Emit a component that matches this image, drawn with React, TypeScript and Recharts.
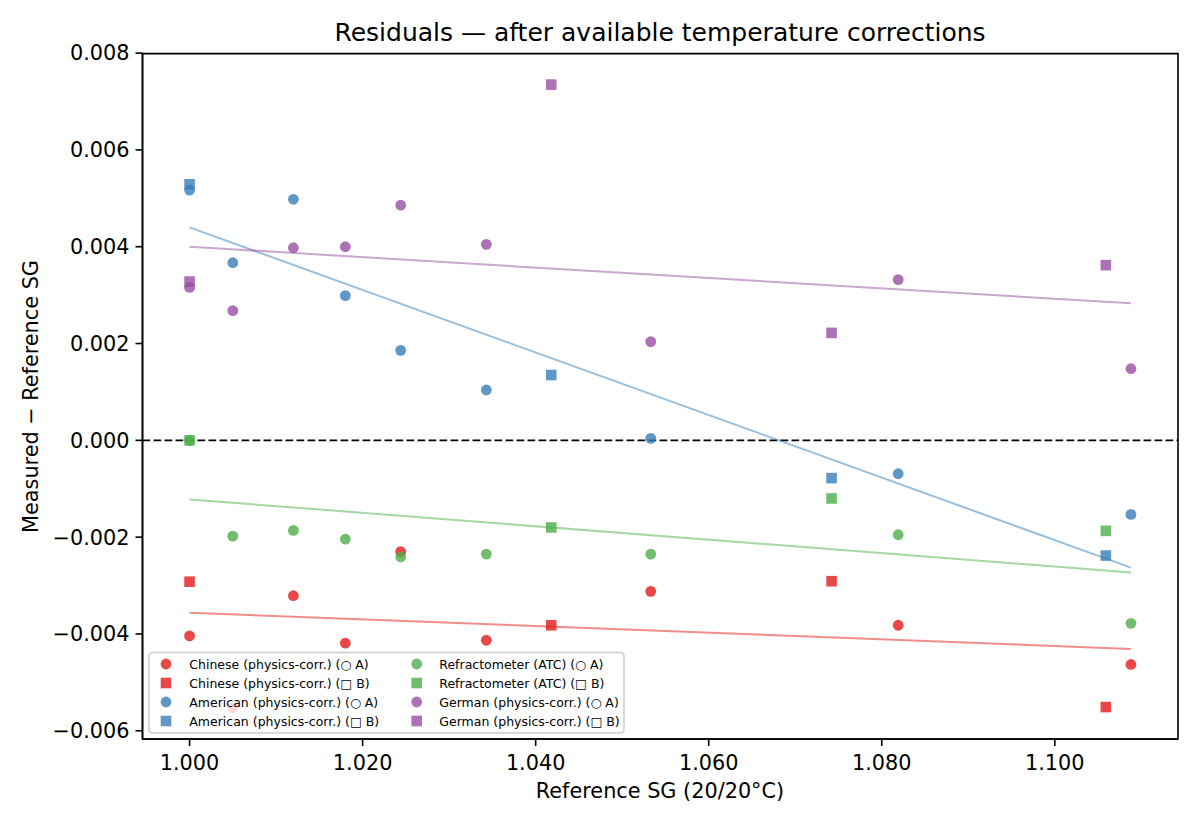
import React from 'react';
import { ComposedChart, Scatter, XAxis, YAxis, ReferenceLine, ReferenceArea } from 'recharts';

// reference SG positions (A = circle runs, B = square runs)
const sgA = [1.0, 1.005, 1.012, 1.018, 1.0244, 1.0343, 1.0533, 1.0819, 1.1088];
const sgB = [1.0, 1.0418, 1.0742, 1.1059];
const trendSG = [1.0, 1.1088];

// residuals, measured - reference
const chineseA = [-0.00404, -0.00553, -0.00321, -0.00419, -0.0023, -0.00413, -0.00312, -0.00382, -0.00463];
const chineseB = [-0.00292, -0.00382, -0.00291, -0.00551];
const americanA = [0.00517, 0.00367, 0.00498, 0.00299, 0.00186, 0.00104, 0.00004, -0.00069, -0.00153];
const americanB = [0.00529, 0.00135, -0.00078, -0.00238];
const refractA = [0.0, -0.00198, -0.00186, -0.00204, -0.00241, -0.00235, -0.00235, -0.00195, -0.00378];
const refractB = [0.0, -0.0018, -0.0012, -0.00187];
const germanA = [0.00316, 0.00268, 0.00398, 0.004, 0.00486, 0.00405, 0.00204, 0.00332, 0.00148];
const germanB = [0.00328, 0.00735, 0.00222, 0.00362];

// fitted trend line end values
const chineseTrend = [-0.00356, -0.00431];
const americanTrend = [0.0044, -0.00263];
const refractTrend = [-0.00122, -0.00273];
const germanTrend = [0.004, 0.00283];

const xTicks = [1.0, 1.02, 1.04, 1.06, 1.08, 1.1];
const yTicks = [-0.006, -0.004, -0.002, 0, 0.002, 0.004, 0.006, 0.008];

const X_DOMAIN = [0.99456, 1.11424];
const Y_DOMAIN = [-0.00617, 0.00799];

const RED = '#e41a1c';
const BLUE = '#377eb8';
const GREEN = '#4daf4a';
const PURPLE = '#984ea3';

const FONT = '"DejaVu Sans", sans-serif';

const toPoints = (xs: number[], ys: number[]) => xs.map((x, i) => ({ x, y: ys[i] }));

const circleShape = (color: string) => (p: any) => (
  <circle cx={p.cx} cy={p.cy} r={5.4} fill={color} fillOpacity={0.8} />
);
const squareShape = (color: string) => (p: any) => (
  <rect x={p.cx - 5.3} y={p.cy - 5.3} width={10.6} height={10.6} fill={color} fillOpacity={0.8} />
);
const noShape = () => <g />;

const series = [
  { name: 'Chinese (physics-corr.) (○ A)', color: RED, square: false, data: toPoints(sgA, chineseA) },
  { name: 'Chinese (physics-corr.) (□ B)', color: RED, square: true, data: toPoints(sgB, chineseB) },
  { name: 'American (physics-corr.) (○ A)', color: BLUE, square: false, data: toPoints(sgA, americanA) },
  { name: 'American (physics-corr.) (□ B)', color: BLUE, square: true, data: toPoints(sgB, americanB) },
  { name: 'Refractometer (ATC) (○ A)', color: GREEN, square: false, data: toPoints(sgA, refractA) },
  { name: 'Refractometer (ATC) (□ B)', color: GREEN, square: true, data: toPoints(sgB, refractB) },
  { name: 'German (physics-corr.) (○ A)', color: PURPLE, square: false, data: toPoints(sgA, germanA) },
  { name: 'German (physics-corr.) (□ B)', color: PURPLE, square: true, data: toPoints(sgB, germanB) },
];

const trends = [
  { color: RED, data: toPoints(trendSG, chineseTrend) },
  { color: BLUE, data: toPoints(trendSG, americanTrend) },
  { color: GREEN, data: toPoints(trendSG, refractTrend) },
  { color: PURPLE, data: toPoints(trendSG, germanTrend) },
];

const fmtY = (v: number) => (v < 0 ? '\u2212' : '') + Math.abs(v).toFixed(3);
const fmtX = (v: number) => v.toFixed(3);

const tickStyle = { fill: '#000', fontSize: 20.8, fontFamily: FONT };
const spine = { stroke: '#000', strokeWidth: 1.6 };

const Overlay = () => (
  <svg
    width={1200}
    height={825}
    style={{ position: 'absolute', left: 0, top: 0, pointerEvents: 'none' }}
  >
    <text x={660} y={41} textAnchor="middle" fontSize={25} fontFamily={FONT} fill="#000">
      Residuals — after available temperature corrections
    </text>
    <text x={660} y={798} textAnchor="middle" fontSize={20.8} fontFamily={FONT} fill="#000">
      Reference SG (20/20°C)
    </text>
    <text
      transform="translate(37.5,396.5) rotate(-90)"
      textAnchor="middle"
      fontSize={20.8}
      fontFamily={FONT}
      fill="#000"
    >
      Measured − Reference SG
    </text>
    <rect
      x={149}
      y={652.5}
      width={475}
      height={80.5}
      rx={3.5}
      fill="#fff"
      fillOpacity={0.8}
      stroke="#cccccc"
      strokeWidth={1.5}
    />
    {series.map((s, i) => {
      const col = Math.floor(i / 4);
      const row = i % 4;
      const mx = col === 0 ? 166 : 416.7;
      const tx = col === 0 ? 189.3 : 439.3;
      const cy = 664 + row * 19;
      return (
        <g key={s.name}>
          {s.square ? (
            <rect x={mx - 5.3} y={cy - 5.3} width={10.6} height={10.6} fill={s.color} fillOpacity={0.8} />
          ) : (
            <circle cx={mx} cy={cy} r={5.4} fill={s.color} fillOpacity={0.8} />
          )}
          <text x={tx} y={cy + 4.5} fontSize={12.5} fontFamily={FONT} fill="#000">
            {s.name}
          </text>
        </g>
      );
    })}
  </svg>
);

export default function App() {
  return (
    <div style={{ position: 'absolute', left: 0, top: 0, width: 1200, height: 825, overflow: 'hidden', background: '#fff' }}>
      <ComposedChart
        width={1200}
        height={825}
        margin={{ top: 53.6, right: 22, bottom: 0, left: 0 }}
      >
        <XAxis
          type="number"
          dataKey="x"
          domain={X_DOMAIN}
          ticks={xTicks}
          tickFormatter={fmtX}
          allowDataOverflow
          height={86}
          tickSize={7}
          tickMargin={9}
          tick={tickStyle}
          tickLine={spine}
          axisLine={spine}
        />
        <YAxis
          type="number"
          dataKey="y"
          domain={Y_DOMAIN}
          ticks={yTicks}
          tickFormatter={fmtY}
          allowDataOverflow
          width={142.5}
          tickSize={7}
          tickMargin={6}
          tick={tickStyle}
          tickLine={spine}
          axisLine={spine}
        />
        {series.map((s) => (
          <Scatter
            key={s.name}
            name={s.name}
            data={s.data}
            shape={s.square ? squareShape(s.color) : circleShape(s.color)}
            isAnimationActive={false}
          />
        ))}
        {trends.map((t, i) => (
          <Scatter
            key={'trend' + i}
            data={t.data}
            shape={noShape}
            line={{ stroke: t.color, strokeOpacity: 0.5, strokeWidth: 2 }}
            isAnimationActive={false}
          />
        ))}
        <ReferenceLine y={0} stroke="#000" strokeWidth={1.8} strokeDasharray="7.7 3.3" />
        {/* full box frame like the other two spines */}
        <ReferenceArea
          x1={X_DOMAIN[0]}
          x2={X_DOMAIN[1]}
          y1={Y_DOMAIN[0]}
          y2={Y_DOMAIN[1]}
          fill="none"
          fillOpacity={0}
          stroke="#000"
          strokeWidth={1.6}
          strokeOpacity={1}
        />
      </ComposedChart>
      <Overlay />
    </div>
  );
}
